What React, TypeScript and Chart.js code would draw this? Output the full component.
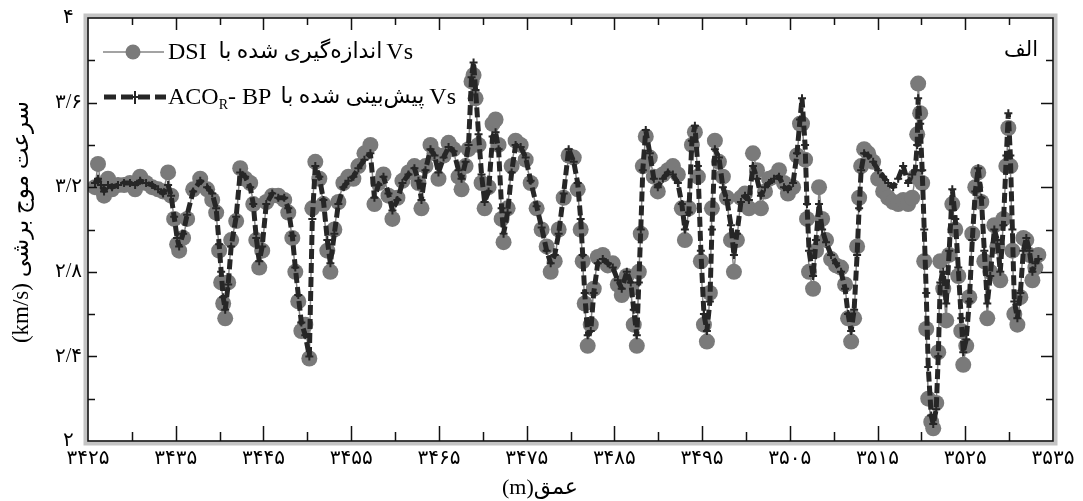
import React, { useEffect, useRef } from 'react';
import { Chart, registerables } from 'chart.js';

Chart.register(...registerables);

// Depth (m) of each sample
const DEPTH = [
  3425.80, 3426.14, 3426.48, 3426.83, 3427.28, 3427.74, 3428.42, 3429.11, 3429.79, 3430.37,
  3430.94, 3431.62, 3432.31, 3432.99, 3433.56, 3434.13, 3434.47, 3434.82, 3435.16, 3435.39,
  3435.84, 3436.30, 3436.99, 3437.79, 3438.58, 3439.16, 3439.61, 3439.95, 3440.18, 3440.41,
  3440.64, 3440.98, 3441.32, 3441.89, 3442.35, 3442.92, 3443.49, 3443.84, 3444.18, 3444.52,
  3444.86, 3445.32, 3446.00, 3446.69, 3447.37, 3447.83, 3448.29, 3448.63, 3448.97, 3449.32,
  3449.77, 3450.23, 3450.57, 3450.91, 3451.37, 3451.83, 3452.28, 3452.63, 3453.08, 3453.54,
  3454.11, 3454.68, 3455.25, 3455.82, 3456.51, 3457.19, 3457.65, 3458.11, 3458.68, 3459.25,
  3459.70, 3460.27, 3460.84, 3461.53, 3462.21, 3462.67, 3463.01, 3463.47, 3464.04, 3464.50,
  3464.95, 3465.53, 3466.10, 3466.67, 3467.24, 3467.58, 3468.04, 3468.38, 3468.72, 3468.95,
  3469.18, 3469.52, 3469.86, 3470.21, 3470.66, 3471.12, 3471.46, 3471.80, 3472.15, 3472.37,
  3472.83, 3473.29, 3473.74, 3474.32, 3474.89, 3475.46, 3476.14, 3476.71, 3477.28, 3477.74,
  3478.20, 3478.65, 3479.22, 3479.79, 3480.37, 3480.82, 3481.16, 3481.39, 3481.62, 3481.96,
  3482.31, 3482.65, 3483.11, 3483.68, 3484.25, 3484.82, 3485.39, 3485.84, 3486.42, 3486.87,
  3487.21, 3487.56, 3487.79, 3488.01, 3488.24, 3488.58, 3489.04, 3489.50, 3489.95, 3490.53,
  3491.10, 3491.67, 3492.24, 3492.69, 3493.04, 3493.49, 3493.84, 3494.18, 3494.52, 3494.86,
  3495.21, 3495.55, 3495.89, 3496.12, 3496.46, 3496.92, 3497.37, 3497.83, 3498.29, 3498.63,
  3498.97, 3499.43, 3499.89, 3500.34, 3500.80, 3501.26, 3501.71, 3502.17, 3502.63, 3503.20,
  3503.77, 3504.34, 3504.79, 3505.37, 3505.82, 3506.16, 3506.39, 3506.74, 3506.96, 3507.19,
  3507.65, 3507.99, 3508.33, 3508.68, 3509.13, 3509.70, 3510.27, 3510.84, 3511.30, 3511.64,
  3511.99, 3512.33, 3512.67, 3512.90, 3513.13, 3513.47, 3513.93, 3514.50, 3515.07, 3515.64,
  3516.21, 3516.78, 3517.35, 3517.92, 3518.49, 3518.95, 3519.29, 3519.52, 3519.63, 3519.86,
  3520.09, 3520.32, 3520.55, 3520.78, 3521.12, 3521.35, 3521.69, 3521.92, 3522.15, 3522.49,
  3522.83, 3523.17, 3523.52, 3523.86, 3524.20, 3524.54, 3524.77, 3525.11, 3525.46, 3525.80,
  3526.14, 3526.48, 3526.83, 3527.17, 3527.51, 3527.85, 3528.31, 3528.65, 3528.99, 3529.34,
  3529.68, 3529.91, 3530.14, 3530.37, 3530.59, 3530.94, 3531.28, 3531.62, 3531.96, 3532.31,
  3532.65, 3532.99, 3533.33,
];

// Vs measured with DSI (km/s)
const VS_DSI = [
  3.20, 3.31, 3.20, 3.16, 3.24, 3.19, 3.21, 3.21, 3.22, 3.19,
  3.25, 3.22, 3.20, 3.19, 3.18, 3.27, 3.16, 3.05, 2.93, 2.90,
  2.96, 3.05, 3.19, 3.24, 3.19, 3.14, 3.08, 2.90, 2.75, 2.65,
  2.58, 2.75, 2.95, 3.04, 3.29, 3.24, 3.22, 3.12, 2.95, 2.82,
  2.90, 3.13, 3.16, 3.16, 3.14, 3.08, 2.96, 2.80, 2.66, 2.52,
  2.55, 2.39, 3.10, 3.32, 3.24, 3.12, 2.90, 2.80, 3.00, 3.13,
  3.22, 3.25, 3.24, 3.30, 3.36, 3.40, 3.12, 3.22, 3.26, 3.16,
  3.05, 3.15, 3.23, 3.27, 3.30, 3.22, 3.10, 3.30, 3.40, 3.36,
  3.24, 3.35, 3.41, 3.38, 3.25, 3.19, 3.30, 3.38, 3.70, 3.73,
  3.62, 3.40, 3.22, 3.10, 3.20, 3.50, 3.52, 3.40, 3.05, 2.94,
  3.10, 3.30, 3.42, 3.40, 3.33, 3.22, 3.10, 3.00, 2.92, 2.80,
  2.85, 3.00, 3.15, 3.35, 3.34, 3.19, 3.00, 2.85, 2.65, 2.45,
  2.55, 2.72, 2.87, 2.88, 2.83, 2.84, 2.74, 2.69, 2.78, 2.72,
  2.55, 2.45, 2.80, 2.98, 3.30, 3.44, 3.34, 3.25, 3.18, 3.26,
  3.28, 3.30, 3.26, 3.10, 2.95, 3.10, 3.40, 3.46, 3.25, 2.85,
  2.55, 2.47, 2.70, 3.10, 3.42, 3.32, 3.25, 3.15, 2.95, 2.80,
  2.95, 3.15, 3.17, 3.10, 3.36, 3.28, 3.10, 3.18, 3.24, 3.25,
  3.28, 3.22, 3.17, 3.20, 3.35, 3.50, 3.50, 3.33, 3.05, 2.80,
  2.72, 2.90, 3.20, 3.05, 2.95, 2.86, 2.83, 2.82, 2.74, 2.58,
  2.47, 2.58, 2.92, 3.15, 3.30, 3.38, 3.36, 3.32, 3.24, 3.18,
  3.15, 3.13, 3.12, 3.14, 3.12, 3.15, 3.25, 3.45, 3.69, 3.55,
  3.22, 2.85, 2.53, 2.20, 2.09, 2.06, 2.18, 2.42, 2.85, 2.72,
  2.57, 2.88, 3.12, 3.00, 2.78, 2.52, 2.36, 2.45, 2.68, 2.98,
  3.20, 3.27, 3.13, 2.85, 2.58, 2.80, 3.02, 2.92, 2.76, 3.05,
  3.30, 3.48, 3.30, 2.90, 2.60, 2.55, 2.68, 2.96, 2.95, 2.88,
  2.76, 2.82, 2.88,
];

// Vs predicted with ACO_R-BP (km/s)
const VS_PRED = [
  3.22, 3.24, 3.21, 3.18, 3.21, 3.20, 3.21, 3.22, 3.22, 3.21,
  3.23, 3.22, 3.21, 3.19, 3.17, 3.21, 3.16, 3.06, 2.96, 2.92,
  2.98, 3.07, 3.18, 3.23, 3.20, 3.17, 3.10, 2.93, 2.80, 2.68,
  2.62, 2.74, 2.92, 3.06, 3.27, 3.25, 3.20, 3.12, 2.96, 2.85,
  2.92, 3.12, 3.17, 3.15, 3.15, 3.10, 2.97, 2.82, 2.69, 2.56,
  2.50, 2.40, 3.05, 3.30, 3.25, 3.14, 2.95, 2.84, 2.98, 3.12,
  3.20, 3.23, 3.25, 3.29, 3.33, 3.36, 3.15, 3.21, 3.25, 3.17,
  3.09, 3.14, 3.22, 3.26, 3.29, 3.23, 3.14, 3.28, 3.38, 3.35,
  3.27, 3.34, 3.39, 3.37, 3.28, 3.24, 3.32, 3.40, 3.72, 3.79,
  3.66, 3.45, 3.26, 3.13, 3.18, 3.44, 3.46, 3.38, 3.10, 2.98,
  3.08, 3.27, 3.40, 3.39, 3.34, 3.23, 3.11, 3.01, 2.90, 2.84,
  2.88, 2.98, 3.17, 3.38, 3.32, 3.22, 3.05, 2.88, 2.70, 2.50,
  2.52, 2.70, 2.84, 2.86, 2.84, 2.82, 2.76, 2.72, 2.80, 2.75,
  2.62, 2.50, 2.75, 3.00, 3.28, 3.47, 3.36, 3.24, 3.20, 3.24,
  3.27, 3.26, 3.22, 3.12, 3.00, 3.08, 3.42, 3.49, 3.30, 2.90,
  2.60, 2.52, 2.66, 3.00, 3.38, 3.34, 3.20, 3.14, 3.02, 2.88,
  2.98, 3.13, 3.16, 3.14, 3.30, 3.24, 3.16, 3.20, 3.22, 3.24,
  3.25, 3.20, 3.19, 3.22, 3.36, 3.52, 3.62, 3.40, 3.12, 2.90,
  2.78, 2.95, 3.12, 3.00, 2.94, 2.88, 2.84, 2.80, 2.72, 2.60,
  2.52, 2.62, 2.88, 3.10, 3.28, 3.36, 3.35, 3.32, 3.28, 3.25,
  3.22, 3.20, 3.24, 3.30, 3.22, 3.26, 3.28, 3.40, 3.62, 3.50,
  3.28, 3.00, 2.70, 2.35, 2.12, 2.08, 2.15, 2.40, 2.75, 2.80,
  2.65, 2.90, 3.19, 3.05, 2.82, 2.58, 2.42, 2.48, 2.66, 2.95,
  3.18, 3.29, 3.15, 2.90, 2.65, 2.78, 3.00, 2.95, 2.80, 3.02,
  3.35, 3.55, 3.35, 3.00, 2.66, 2.58, 2.70, 2.90, 2.96, 2.90,
  2.80, 2.84, 2.86,
];

const X_MIN = 3425;
const X_MAX = 3535;
const X_STEP = 5;
const X_LABEL_EVERY = 10;
const Y_MIN = 2;
const Y_MAX = 4;
const Y_STEP = 0.2;
const Y_LABEL_EVERY = 0.4;

const LEGEND_MEAS_LAT_L = 'DSI';
const LEGEND_MEAS_FA = 'اندازه‌گیری شده با';
const LEGEND_PRED_FA = 'پیش‌بینی شده با';
const LEGEND_VS = 'Vs';
const LEGEND_PRED_LAT = ['ACO', 'R', '- BP'];
const Y_TITLE = 'سرعت موج برشی (km/s)';
const X_TITLE = 'عمق(m)';
const PANEL_LABEL = 'الف';

const FA_DIGITS = '۰۱۲۳۴۵۶۷۸۹';
const toFa = (s: string) => s.replace(/[0-9]/g, (d) => FA_DIGITS[+d]).replace('.', '/');

const FONT = "'Liberation Serif', 'DejaVu Sans', serif";
const C_MEAS_PT = '#7a7a7a';
const C_MEAS_LINE = '#858585';
const C_PRED = '#262626';

// draw Persian phrase fitted between x0 and x1 (rtl)
function fitFa(ctx: CanvasRenderingContext2D, text: string, x0: number, x1: number, y: number, maxSize: number) {
  let size = maxSize;
  ctx.font = `${size}px ${FONT}`;
  const w = ctx.measureText(text).width;
  if (w > x1 - x0) {
    size = Math.max(12, (maxSize * (x1 - x0)) / w);
    ctx.font = `${size}px ${FONT}`;
  }
  ctx.direction = 'rtl';
  ctx.textAlign = 'right';
  ctx.fillText(text, x1, y);
  ctx.direction = 'ltr';
}

const decorPlugin = {
  id: 'decor',
  afterDraw(chart: any) {
    const { ctx, chartArea: a } = chart;
    const xs = chart.scales.x;
    const ys = chart.scales.y;
    ctx.save();
    // frame: light grey halo + black line
    ctx.strokeStyle = '#c4c4c4';
    ctx.lineWidth = 4;
    ctx.strokeRect(a.left - 2.5, a.top - 2.5, a.right - a.left + 5, a.bottom - a.top + 5);
    ctx.strokeStyle = '#111';
    ctx.lineWidth = 1.6;
    ctx.strokeRect(a.left, a.top, a.right - a.left, a.bottom - a.top);

    // inward ticks
    ctx.strokeStyle = '#111';
    ctx.lineWidth = 1.5;
    xs.ticks.forEach((t: any) => {
      const v = t.value;
      if (v <= X_MIN || v >= X_MAX) return;
      const px = Math.round(xs.getPixelForValue(v)) + 0.5;
      const major = Math.round(v - X_MIN) % X_LABEL_EVERY === 0;
      const lb = major ? 15 : 9;
      const lt = major ? 12 : 7;
      ctx.beginPath();
      ctx.moveTo(px, a.bottom);
      ctx.lineTo(px, a.bottom - lb);
      ctx.moveTo(px, a.top);
      ctx.lineTo(px, a.top + lt);
      ctx.stroke();
    });
    ys.ticks.forEach((t: any) => {
      const v = t.value;
      if (v <= Y_MIN || v >= Y_MAX) return;
      const py = Math.round(ys.getPixelForValue(v)) + 0.5;
      const major = Math.round(v * 10) % Math.round(Y_LABEL_EVERY * 10) === 0;
      const ll = major ? 9 : 7;
      const lr = major ? 12 : 7;
      ctx.beginPath();
      ctx.moveTo(a.left, py);
      ctx.lineTo(a.left + ll, py);
      ctx.moveTo(a.right, py);
      ctx.lineTo(a.right - lr, py);
      ctx.stroke();
    });

    // legend
    ctx.textBaseline = 'middle';
    const LAT = 24;
    // row 1
    const y1 = 52;
    ctx.strokeStyle = C_MEAS_LINE;
    ctx.lineWidth = 1.6;
    ctx.beginPath();
    ctx.moveTo(103, y1);
    ctx.lineTo(164, y1);
    ctx.stroke();
    ctx.fillStyle = C_MEAS_PT;
    ctx.beginPath();
    ctx.arc(133, y1, 7.5, 0, Math.PI * 2);
    ctx.fill();
    ctx.fillStyle = '#000';
    ctx.direction = 'ltr';
    ctx.textAlign = 'left';
    ctx.font = `${LAT}px ${FONT}`;
    ctx.fillText(LEGEND_MEAS_LAT_L, 168, y1 + 1);
    const dsiEnd = 168 + ctx.measureText(LEGEND_MEAS_LAT_L).width;
    const vsW = ctx.measureText(LEGEND_VS).width;
    ctx.textAlign = 'right';
    ctx.fillText(LEGEND_VS, 413, y1 + 1);
    ctx.fillStyle = '#000';
    fitFa(ctx, LEGEND_MEAS_FA, dsiEnd + 6, 413 - vsW - 4, y1, 22);

    // row 2
    const y2 = 97;
    ctx.strokeStyle = C_PRED;
    ctx.lineWidth = 5;
    ctx.setLineDash([12, 5]);
    ctx.beginPath();
    ctx.moveTo(104, y2);
    ctx.lineTo(166, y2);
    ctx.stroke();
    ctx.setLineDash([]);
    ctx.lineWidth = 2;
    ctx.beginPath();
    ctx.moveTo(135, y2 - 6);
    ctx.lineTo(135, y2 + 7);
    ctx.moveTo(129, y2);
    ctx.lineTo(141, y2);
    ctx.stroke();

    ctx.direction = 'ltr';
    ctx.textAlign = 'left';
    let cx = 168;
    ctx.font = `${LAT}px ${FONT}`;
    ctx.fillText(LEGEND_PRED_LAT[0], cx, y2 + 1);
    cx += ctx.measureText(LEGEND_PRED_LAT[0]).width;
    ctx.font = `14px ${FONT}`;
    ctx.fillText(LEGEND_PRED_LAT[1], cx, y2 + 8);
    cx += ctx.measureText(LEGEND_PRED_LAT[1]).width;
    ctx.font = `${LAT}px ${FONT}`;
    ctx.fillText(LEGEND_PRED_LAT[2], cx, y2 + 1);
    cx += ctx.measureText(LEGEND_PRED_LAT[2]).width;
    ctx.textAlign = 'right';
    ctx.fillText(LEGEND_VS, 456, y2 + 1);
    fitFa(ctx, LEGEND_PRED_FA, cx + 6, 456 - vsW - 5, y2, 22);

    // panel label
    ctx.direction = 'rtl';
    ctx.textAlign = 'right';
    ctx.font = `21px ${FONT}`;
    ctx.fillText(PANEL_LABEL, 1038, 50);

    // axis titles
    ctx.font = `22px ${FONT}`;
    ctx.textAlign = 'center';
    ctx.direction = 'rtl';
    ctx.fillText(X_TITLE, 540, 488);
    ctx.save();
    ctx.translate(22, 222);
    ctx.rotate(-Math.PI / 2);
    ctx.font = `23px ${FONT}`;
    ctx.fillText(Y_TITLE, 0, 0);
    ctx.restore();

    ctx.restore();
  },
};

export default function App() {
  const ref = useRef<HTMLCanvasElement | null>(null);

  useEffect(() => {
    if (!ref.current) return;
    const measured = DEPTH.map((d, i) => ({ x: d, y: VS_DSI[i] }));
    const predicted = DEPTH.map((d, i) => ({ x: d, y: VS_PRED[i] }));
    const chart = new Chart(ref.current, {
      type: 'line',
      data: {
        datasets: [
          {
            label: 'Vs پیش‌بینی شده با ACOR-BP',
            data: predicted,
            borderColor: C_PRED,
            borderWidth: 5,
            borderDash: [10, 4],
            borderJoinStyle: 'bevel',
            pointStyle: 'cross',
            pointRadius: 4,
            pointBorderWidth: 2,
            pointBorderColor: C_PRED,
            pointBackgroundColor: C_PRED,
            tension: 0,
            order: 0,
          },
          {
            label: 'Vs اندازه‌گیری شده با DSI',
            data: measured,
            borderColor: C_MEAS_LINE,
            borderWidth: 1.5,
            pointStyle: 'circle',
            pointRadius: 8,
            pointBorderWidth: 0,
            pointBackgroundColor: C_MEAS_PT,
            pointBorderColor: C_MEAS_PT,
            tension: 0,
            order: 1,
          },
        ],
      },
      options: {
        animation: false,
        responsive: false,
        devicePixelRatio: 1,
        layout: { padding: { top: 16, right: 30, left: 0, bottom: 0 } },
        plugins: { legend: { display: false }, tooltip: { enabled: false } },
        scales: {
          x: {
            type: 'linear',
            min: X_MIN,
            max: X_MAX,
            grid: { display: false, drawTicks: false },
            border: { display: false },
            afterFit: (s: any) => {
              s.height = 60;
            },
            ticks: {
              stepSize: X_STEP,
              autoSkip: false,
              maxRotation: 0,
              padding: 6,
              color: '#000',
              font: { family: FONT, size: 20 },
              callback: (v: any) => {
                const n = Math.round(Number(v));
                return (n - X_MIN) % X_LABEL_EVERY === 0 ? toFa(String(n)) : '';
              },
            },
          },
          y: {
            type: 'linear',
            min: Y_MIN,
            max: Y_MAX,
            grid: { display: false, drawTicks: false },
            border: { display: false },
            afterFit: (s: any) => {
              s.width = 88;
            },
            ticks: {
              stepSize: Y_STEP,
              autoSkip: false,
              padding: 6,
              crossAlign: 'center',
              color: '#000',
              font: { family: FONT, size: 20 },
              callback: (v: any) => {
                const n = Math.round(Number(v) * 10);
                if (n % Math.round(Y_LABEL_EVERY * 10) !== 0) return '';
                return toFa(String(n / 10));
              },
            },
          },
        },
      },
      plugins: [decorPlugin],
    });
    return () => chart.destroy();
  }, []);

  return (
    <div style={{ position: 'absolute', left: 0, top: 0, width: 1083, height: 501, background: '#fff' }}>
      <canvas ref={ref} width={1083} height={501} style={{ display: 'block', width: 1083, height: 501 }} />
    </div>
  );
}
